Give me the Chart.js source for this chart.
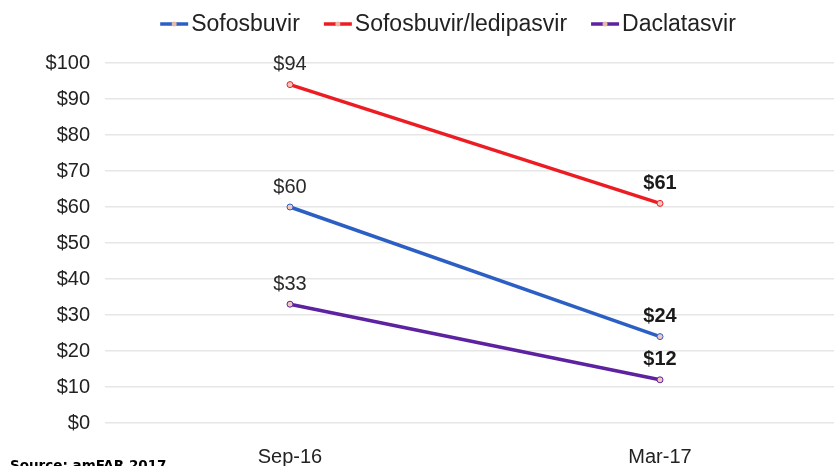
<!DOCTYPE html>
<html>
<head>
<meta charset="utf-8">
<script src="https://cdn.jsdelivr.net/npm/chart.js@4/dist/chart.umd.min.js"></script>
<style>
    html, body { margin: 0; padding: 0; background: #fff; }
    #wrap { position: relative; width: 834px; height: 466px; overflow: hidden; }
    #box { position: absolute; left: 0; top: 0; width: 850px; height: 466px; }
    #source { position: absolute; left: 10px; top: 457px; font: bold 13.5px "DejaVu Sans", Verdana, sans-serif; color: #000; }
</style>
</head>
<body>
<div id="wrap">
    <div id="box"><canvas id="chart"></canvas></div>
    <div id="source">Source: amFAR 2017</div>
</div>
<script>
// Price per treatment, two time points.
const categories = ["Sep-16", "Mar-17"];
const sofosbuvir = [60, 24];
const ledipasvir = [94, 61];
const daclatasvir = [33, 12];
const seriesNames = ["Sofosbuvir", "Sofosbuvir/ledipasvir", "Daclatasvir"];
const seriesColors = ["#2b5fc4", "#ec1c22", "#5c22a0"];
const yTicks = [0, 10, 20, 30, 40, 50, 60, 70, 80, 90, 100];

const FONT = "'Liberation Sans', Arial, Helvetica, sans-serif";

// Value labels above each point; the later date is bold.
const valueLabels = {
    id: "valueLabels",
    afterDatasetsDraw(chart) {
        const ctx = chart.ctx;
        ctx.save();
        ctx.textAlign = "center";
        ctx.textBaseline = "middle";
        chart.data.datasets.forEach((ds, di) => {
            chart.getDatasetMeta(di).data.forEach((pt, i) => {
                ctx.font = (i === 1 ? "bold " : "") + "20px " + FONT;
                ctx.fillStyle = i === 1 ? "#1a1a1a" : "#2a2a2a";
                ctx.fillText("$" + ds.data[i], pt.x, pt.y - 20);
            });
        });
        ctx.restore();
    },
};

// Legend drawn by hand: short line with a dot, then the name.
const lineLegend = {
    id: "lineLegend",
    afterDraw(chart) {
        const ctx = chart.ctx;
        ctx.save();
        ctx.font = "23px " + FONT;
        ctx.textBaseline = "middle";
        const y = 24, mark = 28, gap = 3, between = 24;
        const widths = chart.data.datasets.map(ds => ctx.measureText(ds.label).width);
        const total = widths.reduce((a, w) => a + mark + gap + w, 0) + between * (widths.length - 1);
        let x = 448 - total / 2;
        chart.data.datasets.forEach((ds, i) => {
            ctx.strokeStyle = ds.borderColor;
            ctx.lineWidth = 3.5;
            ctx.beginPath();
            ctx.moveTo(x, y);
            ctx.lineTo(x + mark, y);
            ctx.stroke();
            ctx.beginPath();
            ctx.arc(x + mark / 2, y, 2.5, 0, Math.PI * 2);
            ctx.fillStyle = "#e9b9a8";
            ctx.fill();
            ctx.fillStyle = "#222";
            ctx.fillText(ds.label, x + mark + gap, y + 1);
            x += mark + gap + widths[i] + between;
        });
        ctx.restore();
    },
};

const seriesData = [sofosbuvir, ledipasvir, daclatasvir];

new Chart(document.getElementById("chart"), {
    type: "line",
    data: {
        labels: categories,
        datasets: seriesData.map((d, i) => ({
            label: seriesNames[i],
            data: d,
            borderColor: seriesColors[i],
            backgroundColor: seriesColors[i],
            borderWidth: 3.5,
            pointRadius: 3,
            pointBorderWidth: 1,
            pointBackgroundColor: "#f0c8c0",
            pointBorderColor: seriesColors[i],
            tension: 0,
        })),
    },
    options: {
        responsive: true,
        maintainAspectRatio: false,
        animation: false,
        layout: { padding: { top: 63, right: 5, left: 0, bottom: 0 } },
        plugins: {
            legend: { display: false },
            tooltip: { enabled: false },
        },
        scales: {
            x: {
                offset: true,
                grid: { display: false },
                border: { display: false },
                ticks: { color: "#222", font: { family: FONT, size: 20 }, padding: 14 },
                afterFit(s) { s.height = 43; },
            },
            y: {
                min: 0,
                max: 100,
                afterBuildTicks(s) { s.ticks = yTicks.map(v => ({ value: v })); },
                grid: { color: "#e6e6e6", lineWidth: 1.5, drawTicks: false },
                border: { display: false },
                ticks: {
                    color: "#222",
                    font: { family: FONT, size: 20 },
                    padding: 15,
                    callback: v => "$" + v,
                },
                afterFit(s) { s.width = 105; },
            },
        },
    },
    plugins: [valueLabels, lineLegend],
});
</script>
</body>
</html>
